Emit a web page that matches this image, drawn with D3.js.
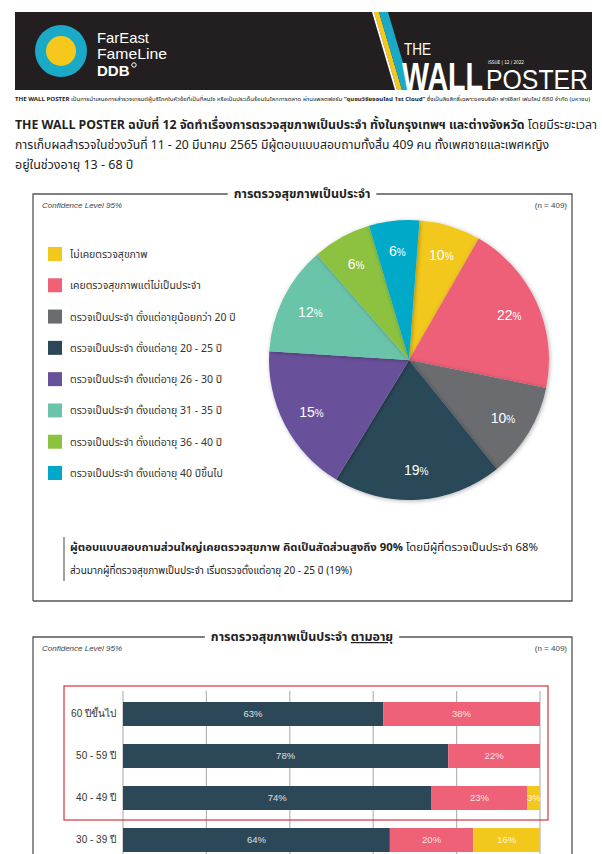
<!DOCTYPE html>
<html><head><meta charset="utf-8">
<script src="https://cdn.jsdelivr.net/npm/d3@7"></script>
<style>
html,body{margin:0;padding:0;background:#fff;}
svg{display:block;font-family:"Noto Sans Thai","Noto Sans","DejaVu Sans",sans-serif;}
</style></head>
<body><svg id="c" width="602" height="854"></svg>
<script>
// ---------- data ----------
const pieCategories = ["ไม่เคยตรวจสุขภาพ","เคยตรวจสุขภาพแต่ไม่เป็นประจำ","ตรวจเป็นประจำ ตั้งแต่อายุน้อยกว่า 20 ปี","ตรวจเป็นประจำ ตั้งแต่อายุ 20 - 25 ปี","ตรวจเป็นประจำ ตั้งแต่อายุ 26 - 30 ปี","ตรวจเป็นประจำ ตั้งแต่อายุ 31 - 35 ปี","ตรวจเป็นประจำ ตั้งแต่อายุ 36 - 40 ปี","ตรวจเป็นประจำ ตั้งแต่อายุ 40 ปีขึ้นไป"];
const pieLabels = [10,22,10,19,15,12,6,6];               // printed percentages
const pieShares = [7.1,19.9,11.0,19.5,17.3,12.6,6.8,5.8]; // slice sizes as drawn
const pieColors = ["#f3c81c","#ee6177","#6b6c70","#2c4858","#67519a","#6bc4aa","#8cc240","#00a9c7"];

const ageGroups = ["60 ปีขึ้นไป","50 - 59 ปี","40 - 49 ปี","30 - 39 ปี"];
const regular = [63,78,74,64];
const notRegular = [38,22,23,20];
const never = [0,0,3,16];
const barKeys = ["regular","notRegular","never"];
const barColors = ["#2c4858","#ee6177","#f3c81c"];
const xTicks = [0,0.2,0.4,0.6,0.8,1];

const svg = d3.select("#c");

// ---------- header ----------
svg.append("rect").attr("x",15).attr("y",12).attr("width",577).attr("height",78).attr("fill","#231f20");
svg.append("circle").attr("cx",61).attr("cy",51).attr("r",26).attr("fill","#1aa9c6");
svg.append("circle").attr("cx",61).attr("cy",51).attr("r",15).attr("fill","#f6c81b");
svg.append("text").attr("x",97).attr("y",43).attr("fill","#fff").attr("font-size",15).attr("font-family","Liberation Sans, Arial").attr("textLength",52).attr("lengthAdjust","spacingAndGlyphs").text("FarEast");
svg.append("text").attr("x",97).attr("y",59).attr("fill","#fff").attr("font-size",15).attr("font-family","Liberation Sans, Arial").attr("textLength",70).attr("lengthAdjust","spacingAndGlyphs").text("FameLine");
svg.append("text").attr("x",97).attr("y",76).attr("fill","#fff").attr("font-size",15).attr("font-weight",700).attr("font-family","Liberation Sans, Arial").text("DDB");
svg.append("circle").attr("cx",134).attr("cy",65).attr("r",2.2).attr("fill","none").attr("stroke","#fff").attr("stroke-width",1);
// stripes
svg.append("polygon").attr("points","374,12 379,12 402,90 397,90").attr("fill","#f6c81b");
svg.append("polygon").attr("points","379,12 388,12 411,90 402,90").attr("fill","#1aa9c6");
svg.append("polygon").attr("points","372,12 374,12 397,90 395,90").attr("fill","#fff");
svg.append("text").attr("x",404).attr("y",55).attr("fill","#fff").attr("font-size",17).attr("font-family","Liberation Sans, Arial").attr("textLength",27).attr("lengthAdjust","spacingAndGlyphs").text("THE");
svg.append("text").attr("x",402).attr("y",90).attr("fill","#fff").attr("font-size",38).attr("font-weight",700).attr("font-family","Liberation Sans, Arial").attr("textLength",81).attr("lengthAdjust","spacingAndGlyphs").text("WALL");
svg.append("text").attr("x",488).attr("y",63.5).attr("fill","#fff").attr("font-size",5).attr("font-family","DejaVu Sans").attr("textLength",36).attr("lengthAdjust","spacingAndGlyphs").text("ISSUE  |  12 / 2022");
svg.append("text").attr("x",486).attr("y",89).attr("fill","#fff").attr("font-size",27).attr("font-family","Liberation Sans, Arial").attr("textLength",102).attr("lengthAdjust","spacingAndGlyphs").text("POSTER");

const tiny = svg.append("text").attr("x",15).attr("y",100.5).attr("font-size",5.6).attr("fill","#222").attr("textLength",575).attr("lengthAdjust","spacingAndGlyphs");
tiny.append("tspan").attr("font-weight",700).text("THE WALL POSTER ");
tiny.append("tspan").text("เป็นการนำเสนอการสำรวจเทรนด์ผู้บริโภคในหัวข้อที่เป็นที่สนใจ หรือเป็นประเด็นร้อนในโลกการตลาด ผ่านแพลตฟอร์ม ");
tiny.append("tspan").attr("font-weight",700).text("“ชุมชนวิจัยออนไลน์ 1st Cloud”");
tiny.append("tspan").text(" ซึ่งเป็นลิขสิทธิ์เฉพาะของบริษัท ฟาร์อีสท์ เฟมไลน์ ดีดีบี จำกัด (มหาชน)");

// intro
const l1 = svg.append("text").attr("x",15).attr("y",129).attr("font-size",12.5).attr("fill","#222").attr("textLength",582).attr("lengthAdjust","spacingAndGlyphs");
l1.append("tspan").attr("font-weight",700).text("THE WALL POSTER ฉบับที่ 12 จัดทำเรื่องการตรวจสุขภาพเป็นประจำ ทั้งในกรุงเทพฯ และต่างจังหวัด");
l1.append("tspan").text(" โดยมีระยะเวลา");
svg.append("text").attr("x",15).attr("y",149).attr("font-size",12.5).attr("fill","#222").attr("textLength",534).attr("lengthAdjust","spacingAndGlyphs").text("การเก็บผลสำรวจในช่วงวันที่ 11 - 20 มีนาคม 2565 มีผู้ตอบแบบสอบถามทั้งสิ้น 409 คน ทั้งเพศชายและเพศหญิง");
svg.append("text").attr("x",15).attr("y",169).attr("font-size",12.5).attr("fill","#222").text("อยู่ในช่วงอายุ 13 - 68 ปี");

// ---------- panel helper ----------
function panel(y0, y1, titleParts){
  svg.append("path").attr("d",`M33,${y1} L33,${y0} L572,${y0} L572,${y1}` + (y1<854?` L33,${y1}`:""))
    .attr("fill","none").attr("stroke","#555").attr("stroke-width",1.3);
  const bgRect = svg.append("rect").attr("fill","#fff");
  const t = svg.append("text").attr("x",302).attr("y",y0+4).attr("text-anchor","middle").attr("font-size",12.5).attr("font-weight",700).attr("fill","#222");
  titleParts.forEach(p=>{ const s=t.append("tspan").text(p.t); if(p.u) s.attr("text-decoration","underline"); });
  const bb = t.node().getBBox();
  bgRect.attr("x",bb.x-6).attr("y",y0-3).attr("width",bb.width+12).attr("height",6);
  svg.append("text").attr("x",42).attr("y",y0+14).attr("font-size",8).attr("font-style","italic").attr("fill","#444").attr("font-family","Liberation Sans, Arial").text("Confidence Level 95%");
  svg.append("text").attr("x",567).attr("y",y0+14).attr("text-anchor","end").attr("font-size",8).attr("fill","#444").attr("font-family","Liberation Sans, Arial").text("(n = 409)");
}

// ---------- panel 1: pie ----------
panel(194, 601, [{t:"การตรวจสุขภาพเป็นประจำ"}]);

const legend = svg.append("g");
const ly = d3.scalePoint().domain(d3.range(pieCategories.length)).range([254,473]);
pieCategories.forEach((c,i)=>{
  legend.append("rect").attr("x",48).attr("y",ly(i)-7).attr("width",14).attr("height",14).attr("fill",pieColors[i]);
  legend.append("text").attr("x",70).attr("y",ly(i)+4).attr("font-size",10.5).attr("fill","#333").text(c);
});

const defs = svg.append("defs");
const f = defs.append("filter").attr("id","sh").attr("x","-20%").attr("y","-20%").attr("width","140%").attr("height","140%");
f.append("feDropShadow").attr("dx",1).attr("dy",1).attr("stdDeviation",2).attr("flood-color","#000").attr("flood-opacity",0.3);

const pie = d3.pie().sort(null).value(d=>d).startAngle(4.3*Math.PI/180).endAngle(4.3*Math.PI/180+2*Math.PI);
const arcs = pie(pieShares);
const R = 140;
const arc = d3.arc().innerRadius(0).outerRadius(R);
const labelArc = d3.arc().innerRadius(110).outerRadius(110);
const pg = svg.append("g").attr("transform","translate(409,360)");
pg.selectAll("path").data(arcs).join("path").attr("d",arc).attr("fill",(d,i)=>pieColors[i]).attr("filter","url(#sh)");
pg.selectAll("text").data(arcs).join("text")
  .attr("transform",d=>`translate(${labelArc.centroid(d)})`).attr("text-anchor","middle").attr("dy","0.35em")
  .attr("fill","#fff").attr("font-family","Liberation Sans, Arial")
  .each(function(d,i){ const t=d3.select(this); t.append("tspan").attr("font-size",14).text(pieLabels[i]); t.append("tspan").attr("font-size",10).text("%"); });

// summary
svg.append("line").attr("x1",64).attr("x2",64).attr("y1",537).attr("y2",581).attr("stroke","#666").attr("stroke-width",1.2);
const s1 = svg.append("text").attr("x",70).attr("y",551).attr("font-size",10.5).attr("fill","#222").attr("textLength",468).attr("lengthAdjust","spacingAndGlyphs");
s1.append("tspan").attr("font-weight",700).text("ผู้ตอบแบบสอบถามส่วนใหญ่เคยตรวจสุขภาพ คิดเป็นสัดส่วนสูงถึง 90%");
s1.append("tspan").text(" โดยมีผู้ที่ตรวจเป็นประจำ 68%");
svg.append("text").attr("x",70).attr("y",574).attr("font-size",10.5).attr("fill","#222").attr("textLength",282).attr("lengthAdjust","spacingAndGlyphs").text("ส่วนมากผู้ที่ตรวจสุขภาพเป็นประจำ เริ่มตรวจตั้งแต่อายุ 20 - 25 ปี (19%)");

// ---------- panel 2: bars ----------
panel(637, 900, [{t:"การตรวจสุขภาพเป็นประจำ "},{t:"ตามอายุ",u:true}]);

const rows = ageGroups.map((g,i)=>({group:g, regular:regular[i], notRegular:notRegular[i], never:never[i]}));
const stack = d3.stack().keys(barKeys).offset(d3.stackOffsetExpand);
const series = stack(rows);
const x = d3.scaleLinear().domain([0,1]).range([123,540]);
const y = d3.scaleBand().domain(ageGroups).range([693, 693+42*4]).paddingInner(18/42).paddingOuter(9/42);

const grid = svg.append("g");
grid.selectAll("line").data(xTicks).join("line").attr("x1",d=>x(d)).attr("x2",d=>x(d)).attr("y1",691).attr("y2",854).attr("stroke","#b5b5b5").attr("stroke-width",1.2);

const bg = svg.append("g");
series.forEach((s,k)=>{
  bg.selectAll(null).data(s).join("rect").attr("x",d=>x(d[0])).attr("width",d=>x(d[1])-x(d[0]))
    .attr("y",d=>y(d.data.group)).attr("height",y.bandwidth()).attr("fill",barColors[k]);
  bg.selectAll(null).data(s.filter(d=>d.data[s.key]>0)).join("text").attr("x",d=>(x(d[0])+x(d[1]))/2)
    .attr("y",d=>y(d.data.group)+y.bandwidth()/2).attr("dy","0.35em").attr("text-anchor","middle")
    .attr("font-size",9.5).attr("fill","#fff").attr("fill-opacity",0.85).attr("font-family","Liberation Sans, Arial")
    .text(d=>d.data[s.key]+"%");
});
const yAxis = svg.append("g").attr("transform","translate(123,0)").call(d3.axisLeft(y).tickSize(0).tickPadding(7));
yAxis.select(".domain").remove();
yAxis.selectAll("text").attr("font-size",10).attr("fill","#333").attr("font-family",null);

svg.append("rect").attr("x",64).attr("y",686).attr("width",484).attr("height",134).attr("fill","none").attr("stroke","#d8323e").attr("stroke-width",1.2);
</script></body></html>
